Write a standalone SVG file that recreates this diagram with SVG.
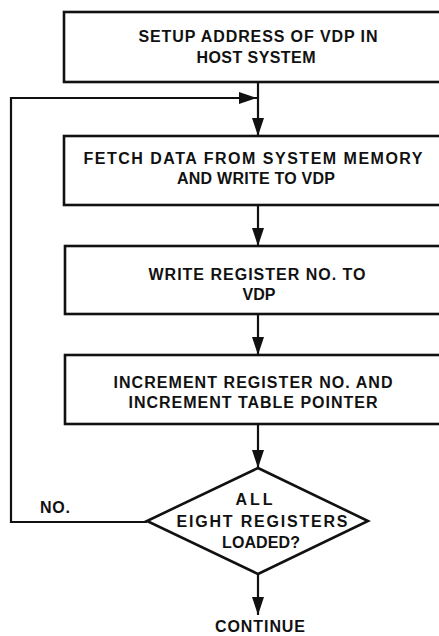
<svg xmlns="http://www.w3.org/2000/svg" width="439" height="636" viewBox="0 0 439 636">
<style>
.box{fill:#fff;stroke:#111;stroke-width:2.6}
.ln{fill:none;stroke:#111;stroke-width:2.2}
.t{font-family:"Liberation Sans",Arial,sans-serif;font-weight:bold;font-size:16px;fill:#111;text-anchor:middle}
</style>
<defs>
<marker id="ah" markerWidth="18" markerHeight="12" refX="18" refY="6" orient="auto" markerUnits="userSpaceOnUse">
<path d="M0,0 L18,6 L0,12 Z" fill="#111"/>
</marker>
</defs>
<rect width="439" height="636" fill="#fff"/>
<g id="connectors">
<line class="ln" x1="258" y1="82" x2="258" y2="136" marker-end="url(#ah)"/>
<polyline class="ln" points="147,522 11,522 11,98 257,98" marker-end="url(#ah)"/>
<line class="ln" x1="258" y1="205" x2="258" y2="246" marker-end="url(#ah)"/>
<line class="ln" x1="258" y1="314" x2="258" y2="355" marker-end="url(#ah)"/>
<line class="ln" x1="258" y1="424" x2="258" y2="468" marker-end="url(#ah)"/>
<line class="ln" x1="258" y1="574" x2="258" y2="615" marker-end="url(#ah)"/>
</g>
<g id="setup">
<rect class="box" x="64" y="12" width="420" height="70"/>
<text class="t" x="258" y="42" textLength="239" lengthAdjust="spacing">SETUP ADDRESS OF VDP IN</text>
<text class="t" x="256" y="63" textLength="119" lengthAdjust="spacing">HOST SYSTEM</text>
</g>
<g id="fetch">
<rect class="box" x="64" y="136" width="420" height="69"/>
<text class="t" x="253" y="164" textLength="339" lengthAdjust="spacing">FETCH DATA FROM SYSTEM MEMORY</text>
<text class="t" x="256" y="184" textLength="158" lengthAdjust="spacing">AND WRITE TO VDP</text>
</g>
<g id="writereg">
<rect class="box" x="65" y="246" width="420" height="68"/>
<text class="t" x="257" y="280" textLength="217" lengthAdjust="spacing">WRITE REGISTER NO. TO</text>
<text class="t" x="259" y="300">VDP</text>
</g>
<g id="increment">
<rect class="box" x="65" y="355" width="420" height="69"/>
<text class="t" x="253" y="388" textLength="279" lengthAdjust="spacing">INCREMENT REGISTER NO. AND</text>
<text class="t" x="253" y="408" textLength="249" lengthAdjust="spacing">INCREMENT TABLE POINTER</text>
</g>
<g id="decision">
<polygon class="box" points="258,468 368,521 258,574 147,521"/>
<text class="t" x="254" y="505" textLength="37" lengthAdjust="spacing">ALL</text>
<text class="t" x="262" y="527" textLength="171" lengthAdjust="spacing">EIGHT REGISTERS</text>
<text class="t" x="261" y="548" textLength="78" lengthAdjust="spacing">LOADED?</text>
</g>
<g id="labels">
<text class="t" x="55" y="513" textLength="30" lengthAdjust="spacing">NO.</text>
<text class="t" x="260" y="632" textLength="90" lengthAdjust="spacing">CONTINUE</text>
</g>
</svg>
